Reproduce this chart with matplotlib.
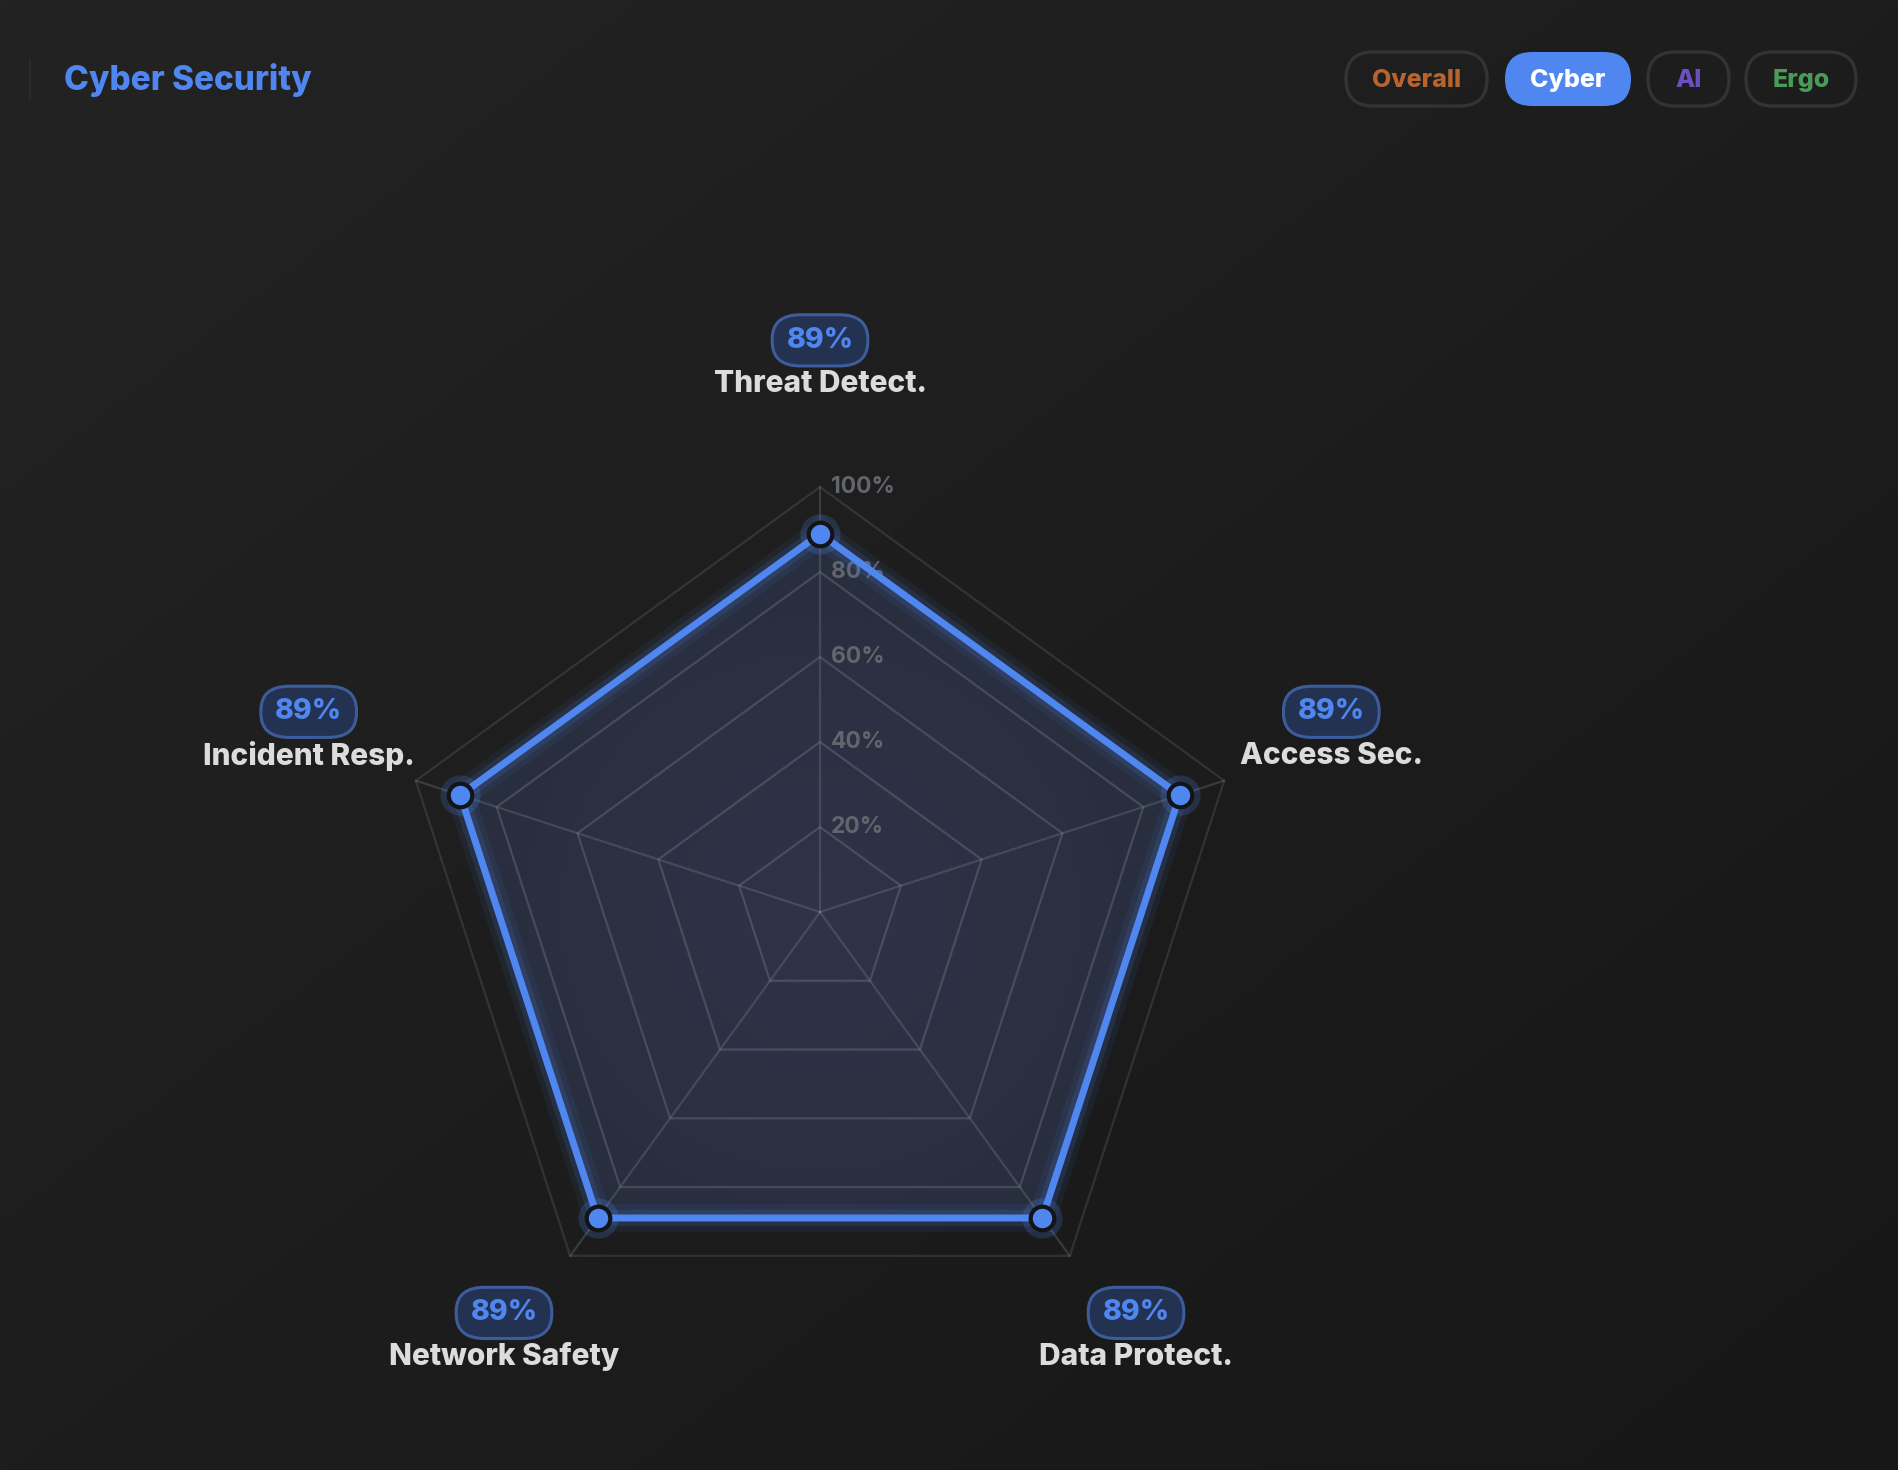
import numpy as np
import matplotlib
matplotlib.use("Agg")
import matplotlib.pyplot as plt
from matplotlib.patches import FancyBboxPatch, Polygon
from matplotlib.colors import to_rgb

# ----------------------
# Datos
# ----------------------
categories = ["Threat Detect.", "Access Sec.", "Data Protect.", "Network Safety", "Incident Resp."]
values = [89, 89, 89, 89, 89]
ring_levels = [20, 40, 60, 80, 100]
ring_labels = ["20%", "40%", "60%", "80%", "100%"]
title = "Cyber Security"
tabs = ["Overall", "Cyber", "AI", "Ergo"]
active_tab = "Cyber"

# ----------------------
# Estilo
# ----------------------
plt.rcParams["font.family"] = ["Inter", "DejaVu Sans"]
BG_TL = np.array([0x23, 0x23, 0x23]) / 255
BG_BR = np.array([0x17, 0x17, 0x17]) / 255
BLUE = "#4f86f0"
LABEL_C = "#dcdcdc"
TAB_COLORS = {"Overall": "#b8642f", "Cyber": "#ffffff", "AI": "#6b4fc0", "Ergo": "#4c9a58"}

W, H = 1898, 1470
fig = plt.figure(figsize=(W / 100, H / 100), dpi=100)

# fondo con gradiente
bg = fig.add_axes([0, 0, 1, 1])
gy, gx = np.mgrid[0:1:200j, 0:1:200j]
t = (gx + gy) / 2
img = BG_TL[None, None, :] * (1 - t[..., None]) + BG_BR[None, None, :] * t[..., None]
bg.imshow(img, extent=[0, W, H, 0], aspect="auto", zorder=0)
bg.set_xlim(0, W)
bg.set_ylim(H, 0)
bg.axis("off")

# titulo + linea lateral
bg.plot([30, 30], [59, 99], color="#2a2a2a", lw=1.5)
bg.text(64, 80, title, color=BLUE, fontsize=24, fontweight="heavy", va="center", ha="left")

# pestañas
tab_boxes = {"Overall": (1346, 141), "Cyber": (1505, 126), "AI": (1648, 81), "Ergo": (1746, 110)}
for name in tabs:
    x0, w = tab_boxes[name]
    active = name == active_tab
    pill = FancyBboxPatch((x0, 52), w, 54, boxstyle="round,pad=0,rounding_size=27",
                          facecolor=BLUE if active else "none",
                          edgecolor=BLUE if active else "#333333",
                          lw=0 if active else 2.4)
    bg.add_patch(pill)
    bg.text(x0 + w / 2, 80, name, color=TAB_COLORS[name], fontsize=18, fontweight="heavy",
            ha="center", va="center")

# ----------------------
# Radar
# ----------------------
cx, cy, R = 820, 912, 425          # centro y radio en pixeles
lim = 140
span = 2 * lim * R / 100
ax = fig.add_axes([(cx - span / 2) / W, (H - cy - span / 2) / H, span / W, span / H])
ax.set_xlim(-lim, lim)
ax.set_ylim(-lim, lim)
ax.set_aspect("equal")
ax.axis("off")

n = len(categories)
theta = np.pi / 2 - np.arange(n) * 2 * np.pi / n
ux, uy = np.cos(theta), np.sin(theta)

v = np.array(values, dtype=float)
px, py = v * ux, v * uy

# relleno con gradiente radial
area = Polygon(np.c_[px, py], closed=True, facecolor="none", edgecolor="none")
ax.add_patch(area)
yy, xx = np.mgrid[-100:100:300j, -100:100:300j]
rr = np.clip(np.hypot(xx, yy) / 100, 0, 1)[..., None]
c_in, c_out = np.array(to_rgb("#313349")), np.array(to_rgb("#262d3c"))
grad = c_in * (1 - rr) + c_out * rr
im = ax.imshow(grad, extent=[-100, 100, -100, 100], origin="lower", zorder=2, interpolation="bilinear")
im.set_clip_path(area)

# anillos
for lev in ring_levels:
    ring = Polygon(np.c_[lev * ux, lev * uy], closed=True, fill=False,
                   edgecolor="#8a8f9a", alpha=0.3 if lev < 100 else 0.2, lw=1.6, zorder=3)
    ax.add_patch(ring)
for i in range(n):
    ax.plot([0, 100 * ux[i]], [0, 100 * uy[i]], color="#8a8f9a", alpha=0.27, lw=1.6, zorder=3)

# etiquetas de anillo
for lev, lab in zip(ring_levels, ring_labels):
    ax.text(2.6, lev, lab, color="#62656c", fontsize=16.5, fontweight="bold",
            ha="left", va="center", zorder=4)

# linea de datos
cpx, cpy = np.r_[px, px[0]], np.r_[py, py[0]]
ax.plot(cpx, cpy, color=BLUE, lw=20, alpha=0.07, solid_joinstyle="miter", zorder=5)
ax.plot(cpx, cpy, color=BLUE, lw=12, alpha=0.14, solid_joinstyle="miter", zorder=5)
ax.plot(cpx, cpy, color=BLUE, lw=5, solid_joinstyle="miter", zorder=6)
ax.plot(px, py, "o", ms=29, color=BLUE, alpha=0.2, mew=0, zorder=7)
ax.plot(px, py, "o", ms=17, mfc=BLUE, mec="#121418", mew=3, zorder=8)

# etiquetas de categoria + insignia
r_lab = 126.5
for i, (cat, val) in enumerate(zip(categories, values)):
    lx, ly = r_lab * ux[i], r_lab * uy[i]
    ax.annotate(cat, (lx, ly), xytext=(0, -7), textcoords="offset points",
                color=LABEL_C, fontsize=21.5, fontweight="heavy", ha="center", va="center",
                annotation_clip=False, zorder=9)
    ax.annotate(f"{val}%", (lx, ly), xytext=(0, 24.5), textcoords="offset points",
                color=BLUE, fontsize=20.5, fontweight="heavy", ha="center", va="center",
                annotation_clip=False, zorder=9,
                bbox=dict(boxstyle="round,pad=0.5,rounding_size=1.0", mutation_aspect=0.85,
                          facecolor="#243252", edgecolor="#3d5c9c", lw=2.2))

fig.savefig("out.png", dpi=100, facecolor=fig.get_facecolor())
